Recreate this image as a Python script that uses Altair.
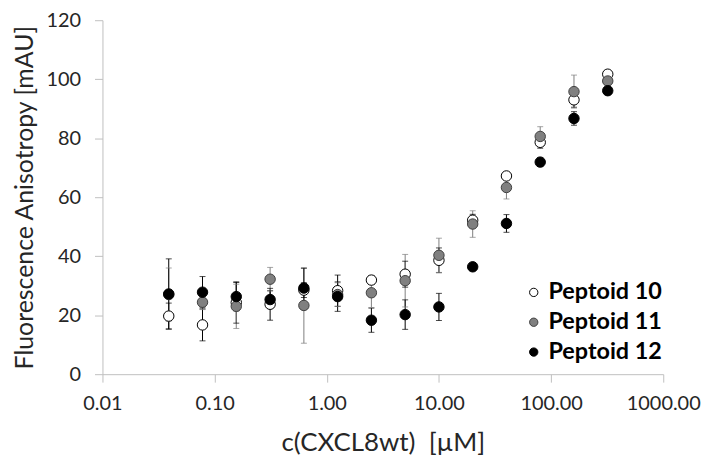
import altair as alt
import pandas as pd

conc = [0.039, 0.078, 0.156, 0.3125, 0.625, 1.25, 2.5, 5, 10, 20, 40, 80, 160, 320]

series_names = ["Peptoid 10", "Peptoid 11", "Peptoid 12"]

p10 = [19.7, 16.7, 24.3, 23.7, 28.5, 28.3, 31.9, 33.9, 38.6, 52.2, 67.2, 78.6, 93.0, 101.7]
p10_err = [4.4, 5.4, 7.0, 5.4, 2.5, 5.3, 1.5, 4.4, 4.2, 2.0, 1.0, 2.0, 2.5, 1.0]

p11 = [27.0, 24.4, 23.0, 32.2, 23.3, 27.0, 27.6, 31.7, 40.3, 50.9, 63.3, 80.6, 95.8, 99.4]
p11_err = [9.0, 2.5, 7.5, 4.0, 12.8, 4.0, 5.0, 8.9, 5.8, 4.5, 3.9, 3.3, 5.6, 1.0]

p12 = [27.2, 27.8, 26.3, 25.3, 29.2, 26.3, 18.3, 20.2, 22.8, 36.4, 51.1, 71.9, 86.7, 96.1]
p12_err = [11.9, 5.3, 4.8, 3.0, 6.7, 5.0, 4.1, 5.0, 4.6, 1.0, 3.0, 1.5, 2.3, 1.0]

x_ticks = [0.01, 0.1, 1, 10, 100, 1000]
y_ticks = [0, 20, 40, 60, 80, 100, 120]

fills = ["#ffffff", "#808080", "#000000"]
strokes = ["#000000", "#404040", "#000000"]
bar_colors = ["#000000", "#7f7f7f", "#000000"]

rows = []
for si, (name, vals, errs) in enumerate(zip(series_names, [p10, p11, p12], [p10_err, p11_err, p12_err])):
    for c, v, e in zip(conc, vals, errs):
        rows.append({"series": name, "order": si, "conc": c, "val": v,
                     "lo": v - e, "hi": v + e, "barcolor": bar_colors[si]})
df = pd.DataFrame(rows)

FONT = "Lato"

x_enc = alt.X("conc:Q",
              scale=alt.Scale(type="log", domain=[0.01, 1000], nice=False),
              axis=alt.Axis(values=x_ticks, format=".2f", labelFlush=False,
                            title="c(CXCL8wt)\u00a0\u00a0[µM]", titleFontSize=26))
y_enc = alt.Y("val:Q",
              scale=alt.Scale(domain=[0, 120], nice=False),
              axis=alt.Axis(values=y_ticks, labelFlush=False,
                            title="Fluorescence Anisotropy [mAU]"))

base = alt.Chart(df)

bar_color = alt.Color("barcolor:N", scale=None)

rules = base.mark_rule(strokeWidth=1).encode(
    x=x_enc, y=alt.Y("lo:Q"), y2="hi:Q", color=bar_color)
caps_hi = base.mark_tick(orient="horizontal", size=6, thickness=1).encode(
    x=x_enc, y=alt.Y("hi:Q"), color=bar_color)
caps_lo = base.mark_tick(orient="horizontal", size=6, thickness=1).encode(
    x=x_enc, y=alt.Y("lo:Q"), color=bar_color)

leg = alt.Legend(title=None, orient="none", legendX=422, legendY=262,
                 symbolSize=70, symbolStrokeWidth=1, symbolType="circle",
                 labelFont=FONT, labelFontSize=23.5, labelFontWeight="bold",
                 labelColor="#000000", labelOffset=3, rowPadding=5)

points = base.mark_point(filled=True, size=110, strokeWidth=1, opacity=1).encode(
    x=x_enc, y=y_enc,
    fill=alt.Fill("series:N", scale=alt.Scale(domain=series_names, range=fills), legend=leg),
    stroke=alt.Stroke("series:N", scale=alt.Scale(domain=series_names, range=strokes), legend=leg),
    order=alt.Order("order:Q"),
)

chart = alt.layer(rules, caps_hi, caps_lo, points).properties(
    width=564, height=356,
    autosize=alt.AutoSizeParams(type="none"),
    padding={"left": 95, "top": 11, "right": 42, "bottom": 81},
).configure_view(stroke=None).configure_axis(
    grid=False,
    domainColor="#bfbfbf",
    tickColor="#bfbfbf",
    tickSize=8,
    labelFont=FONT,
    labelFontSize=20,
    labelColor="#262626",
    titleFont=FONT,
    titleFontSize=25,
    titleFontWeight="normal",
    titleColor="#262626",
).configure_axisX(labelPadding=12, titlePadding=16).configure_axisY(labelPadding=14, titlePadding=9)

chart.save("out.html", embed_options={"renderer": "svg", "actions": False})
